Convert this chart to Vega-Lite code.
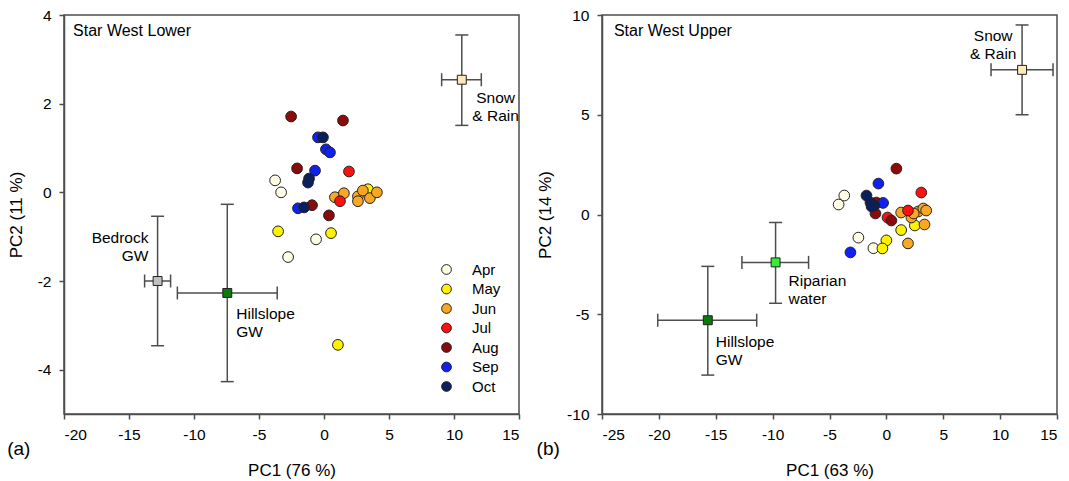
{
  "$schema": "https://vega.github.io/schema/vega-lite/v6.json",
  "padding": {"left": 6, "top": 7, "right": 8, "bottom": 0},
  "background": "white",
  "config": {
    "font": "Liberation Sans",
    "view": {"stroke": "#4d4d4d", "strokeWidth": 1.5},
    "axis": {"grid": false, "labelFont": "Liberation Sans", "labelFontSize": 15.5, "labelColor": "#000", "titleFont": "Liberation Sans", "titleFontSize": 17, "titleFontWeight": "normal", "titleColor": "#000", "tickColor": "#4d4d4d", "domainColor": "#4d4d4d", "tickSize": 5, "tickWidth": 1.5, "domainWidth": 1.5, "labelPadding": 8, "labelExpr": "'' + datum.value"},
    "axisX": {"titlePadding": 20},
    "axisY": {"titlePadding": 12},
    "title": {"font": "Liberation Sans", "fontSize": 19, "fontWeight": "normal", "color": "#000"}
  },
  "datasets": {
    "lowerPts": [
      {"month": "Apr", "pc1": -3.76, "pc2": 0.27}, {"month": "Apr", "pc1": -3.3, "pc2": 0.0}, {"month": "Apr", "pc1": -0.61, "pc2": -1.06}, {"month": "Apr", "pc1": -2.76, "pc2": -1.46},
      {"month": "May", "pc1": -3.53, "pc2": -0.88}, {"month": "May", "pc1": 0.54, "pc2": -0.92}, {"month": "May", "pc1": 1.07, "pc2": -3.44}, {"month": "May", "pc1": 3.38, "pc2": 0.07},
      {"month": "Jun", "pc1": 0.84, "pc2": -0.11}, {"month": "Jun", "pc1": 1.53, "pc2": -0.02}, {"month": "Jun", "pc1": 2.61, "pc2": -0.09}, {"month": "Jun", "pc1": 2.99, "pc2": 0.04}, {"month": "Jun", "pc1": 3.53, "pc2": -0.13}, {"month": "Jun", "pc1": 4.07, "pc2": 0.0}, {"month": "Jun", "pc1": 2.61, "pc2": -0.2},
      {"month": "Jul", "pc1": 1.92, "pc2": 0.47}, {"month": "Jul", "pc1": 1.23, "pc2": -0.2},
      {"month": "Aug", "pc1": -2.53, "pc2": 1.71}, {"month": "Aug", "pc1": 1.46, "pc2": 1.62}, {"month": "Aug", "pc1": -2.07, "pc2": 0.54}, {"month": "Aug", "pc1": -0.92, "pc2": -0.29}, {"month": "Aug", "pc1": 0.38, "pc2": -0.52},
      {"month": "Sep", "pc1": -0.46, "pc2": 1.24}, {"month": "Sep", "pc1": 0.15, "pc2": 0.97}, {"month": "Sep", "pc1": 0.46, "pc2": 0.9}, {"month": "Sep", "pc1": -0.69, "pc2": 0.49}, {"month": "Sep", "pc1": -2.0, "pc2": -0.36},
      {"month": "Oct", "pc1": -0.08, "pc2": 1.24}, {"month": "Oct", "pc1": -1.15, "pc2": 0.31}, {"month": "Oct", "pc1": -1.23, "pc2": 0.22}, {"month": "Oct", "pc1": -1.53, "pc2": -0.34}
    ],
    "upperPts": [
      {"month": "Apr", "pc1": -3.7, "pc2": 0.95}, {"month": "Apr", "pc1": -4.2, "pc2": 0.5}, {"month": "Apr", "pc1": -2.46, "pc2": -1.16}, {"month": "Apr", "pc1": -1.14, "pc2": -1.69},
      {"month": "May", "pc1": 1.3, "pc2": -0.78}, {"month": "May", "pc1": 2.5, "pc2": -0.55}, {"month": "May", "pc1": 0.0, "pc2": -1.3}, {"month": "May", "pc1": -0.35, "pc2": -1.7},
      {"month": "Jun", "pc1": 1.3, "pc2": 0.1}, {"month": "Jun", "pc1": 2.2, "pc2": -0.15}, {"month": "Jun", "pc1": 2.8, "pc2": 0.15}, {"month": "Jun", "pc1": 3.25, "pc2": 0.3}, {"month": "Jun", "pc1": 3.5, "pc2": 0.2}, {"month": "Jun", "pc1": 3.35, "pc2": -0.5}, {"month": "Jun", "pc1": 1.9, "pc2": -1.45}, {"month": "Jun", "pc1": 2.4, "pc2": 0.05},
      {"month": "Jul", "pc1": 3.07, "pc2": 1.1}, {"month": "Jul", "pc1": 1.9, "pc2": 0.2}, {"month": "Jul", "pc1": 0.1, "pc2": -0.15},
      {"month": "Aug", "pc1": 0.88, "pc2": 2.3}, {"month": "Aug", "pc1": -0.96, "pc2": 0.05}, {"month": "Aug", "pc1": 0.44, "pc2": -0.3}, {"month": "Aug", "pc1": -0.88, "pc2": 0.6},
      {"month": "Sep", "pc1": -0.7, "pc2": 1.55}, {"month": "Sep", "pc1": -0.29, "pc2": 0.58}, {"month": "Sep", "pc1": -3.16, "pc2": -1.9},
      {"month": "Oct", "pc1": -1.75, "pc2": 0.95}, {"month": "Oct", "pc1": -1.4, "pc2": 0.6}, {"month": "Oct", "pc1": -1.05, "pc2": 0.45}, {"month": "Oct", "pc1": -1.3, "pc2": 0.4}
    ],
    "lowerEm": [
      {"source": "Snow & Rain", "pc1": 10.6, "pc2": 2.54, "xlo": 9.05, "xhi": 12.1, "ylo": 1.51, "yhi": 3.55},
      {"source": "Bedrock GW", "pc1": -12.8, "pc2": -2.0, "xlo": -13.8, "xhi": -11.8, "ylo": -3.46, "yhi": -0.54},
      {"source": "Hillslope GW", "pc1": -7.44, "pc2": -2.27, "xlo": -11.28, "xhi": -3.6, "ylo": -4.27, "yhi": -0.27}
    ],
    "upperEm": [
      {"source": "Snow & Rain", "pc1": 11.93, "pc2": 7.25, "xlo": 9.2, "xhi": 14.65, "ylo": 5.0, "yhi": 9.5},
      {"source": "Riparian water", "pc1": -9.74, "pc2": -2.4, "xlo": -12.7, "xhi": -6.84, "ylo": -4.45, "yhi": -0.4},
      {"source": "Hillslope GW", "pc1": -15.7, "pc2": -5.3, "xlo": -20.1, "xhi": -11.4, "ylo": -8.05, "yhi": -2.6}
    ],
    "lowerLab": [
      {"text": "Snow\n& Rain", "lx": 13.2, "ly": 2.29},
      {"text": "Bedrock\nGW", "lx": -13.5, "ly": -0.88},
      {"text": "Hillslope\nGW", "lx": -6.75, "ly": -2.58},
      {"text": "Star West Lower", "lx": -19.3, "ly": 3.64}
    ],
    "upperLab": [
      {"text": "Snow\n& Rain", "lx": 9.39, "ly": 9.3},
      {"text": "Riparian\nwater", "lx": -8.6, "ly": -3.0},
      {"text": "Hillslope\nGW", "lx": -15.0, "ly": -6.05},
      {"text": "Star West Upper", "lx": -23.95, "ly": 9.2}
    ]
  },
  "hconcat": [
    {
      "width": 455, "height": 399,
      "title": {"text": "(a)", "orient": "bottom", "anchor": "start", "frame": "bounds", "offset": -39},
      "layer": [
        {"data": {"name": "lowerEm"}, "mark": {"type": "rule", "color": "#4d4d4d", "strokeWidth": 1.5},
         "encoding": {"x": {"field": "pc1", "type": "quantitative", "scale": {"domain": [-20, 15], "nice": false, "zero": false}, "axis": {"values": [-20, -15, -10, -5, 0, 5, 10, 15]}, "title": "PC1 (76 %)"},
                      "y": {"field": "ylo", "type": "quantitative", "scale": {"domain": [-5, 4], "nice": false, "zero": false}, "axis": {"values": [-4, -2, 0, 2, 4]}, "title": "PC2 (11 %)"},
                      "y2": {"field": "yhi"}}},
        {"data": {"name": "lowerEm"}, "mark": {"type": "rule", "color": "#4d4d4d", "strokeWidth": 1.5},
         "encoding": {"x": {"field": "xlo", "type": "quantitative", "title": "PC1 (76 %)"}, "x2": {"field": "xhi"},
                      "y": {"field": "pc2", "type": "quantitative", "title": "PC2 (11 %)"}}},
        {"data": {"name": "lowerEm"}, "mark": {"type": "tick", "orient": "horizontal", "color": "#4d4d4d", "size": 13, "thickness": 1.5, "opacity": 1},
         "encoding": {"x": {"field": "pc1", "type": "quantitative", "title": "PC1 (76 %)"}, "y": {"field": "ylo", "type": "quantitative", "title": "PC2 (11 %)"}}},
        {"data": {"name": "lowerEm"}, "mark": {"type": "tick", "orient": "horizontal", "color": "#4d4d4d", "size": 13, "thickness": 1.5, "opacity": 1},
         "encoding": {"x": {"field": "pc1", "type": "quantitative", "title": "PC1 (76 %)"}, "y": {"field": "yhi", "type": "quantitative", "title": "PC2 (11 %)"}}},
        {"data": {"name": "lowerEm"}, "mark": {"type": "tick", "orient": "vertical", "color": "#4d4d4d", "size": 13, "thickness": 1.5, "opacity": 1},
         "encoding": {"x": {"field": "xlo", "type": "quantitative", "title": "PC1 (76 %)"}, "y": {"field": "pc2", "type": "quantitative", "title": "PC2 (11 %)"}}},
        {"data": {"name": "lowerEm"}, "mark": {"type": "tick", "orient": "vertical", "color": "#4d4d4d", "size": 13, "thickness": 1.5, "opacity": 1},
         "encoding": {"x": {"field": "xhi", "type": "quantitative", "title": "PC1 (76 %)"}, "y": {"field": "pc2", "type": "quantitative", "title": "PC2 (11 %)"}}},
        {"data": {"name": "lowerPts"}, "mark": {"type": "point", "shape": "circle", "filled": true, "size": 115, "stroke": "#222", "strokeWidth": 1, "opacity": 1},
         "encoding": {"x": {"field": "pc1", "type": "quantitative", "title": "PC1 (76 %)"}, "y": {"field": "pc2", "type": "quantitative", "title": "PC2 (11 %)"},
                      "color": {"field": "month", "type": "nominal", "sort": null,
                                "scale": {"domain": ["Apr", "May", "Jun", "Jul", "Aug", "Sep", "Oct"], "range": ["#FFFDE6", "#FFF200", "#F9A825", "#FF1010", "#8B0A0A", "#1020F0", "#0B1F5E"]},
                                "legend": {"title": null, "orient": "none", "legendX": 375, "legendY": 247, "padding": 0, "symbolType": "circle", "symbolSize": 95, "symbolStrokeColor": "#222", "symbolStrokeWidth": 1, "symbolOpacity": 1, "labelFontSize": 15, "labelFont": "Liberation Sans", "labelColor": "#000", "labelOffset": 18, "rowPadding": 3.5}}}},
        {"data": {"name": "lowerEm"}, "mark": {"type": "point", "shape": "square", "filled": true, "size": 80, "stroke": "#222", "strokeWidth": 1, "opacity": 1},
         "encoding": {"x": {"field": "pc1", "type": "quantitative", "title": "PC1 (76 %)"}, "y": {"field": "pc2", "type": "quantitative", "title": "PC2 (11 %)"},
                      "fill": {"field": "source", "type": "nominal", "legend": null,
                               "scale": {"domain": ["Snow & Rain", "Bedrock GW", "Hillslope GW", "Riparian water"], "range": ["#FCE8B8", "#C0C0C0", "#0A7A0A", "#33EE33"]}}}},
        {"data": {"name": "lowerLab"}, "transform": [{"filter": {"field": "text", "oneOf": ["Hillslope\nGW"]}}],
         "mark": {"type": "text", "align": "left", "baseline": "top", "fontSize": 15.5, "lineBreak": "\n", "lineHeight": 18, "color": "#000"},
         "encoding": {"x": {"field": "lx", "type": "quantitative", "title": "PC1 (76 %)"}, "y": {"field": "ly", "type": "quantitative", "title": "PC2 (11 %)"}, "text": {"field": "text"}}},
        {"data": {"name": "lowerLab"}, "transform": [{"filter": {"field": "text", "oneOf": ["Snow\n& Rain"]}}],
         "mark": {"type": "text", "align": "center", "baseline": "top", "fontSize": 15.5, "lineBreak": "\n", "lineHeight": 18, "color": "#000"},
         "encoding": {"x": {"field": "lx", "type": "quantitative", "title": "PC1 (76 %)"}, "y": {"field": "ly", "type": "quantitative", "title": "PC2 (11 %)"}, "text": {"field": "text"}}},
        {"data": {"name": "lowerLab"}, "transform": [{"filter": {"field": "text", "oneOf": ["Bedrock\nGW"]}}],
         "mark": {"type": "text", "align": "right", "baseline": "top", "fontSize": 15.5, "lineBreak": "\n", "lineHeight": 18, "color": "#000"},
         "encoding": {"x": {"field": "lx", "type": "quantitative", "title": "PC1 (76 %)"}, "y": {"field": "ly", "type": "quantitative", "title": "PC2 (11 %)"}, "text": {"field": "text"}}},
        {"data": {"name": "lowerLab"}, "transform": [{"filter": {"field": "text", "oneOf": ["Star West Lower"]}}],
         "mark": {"type": "text", "align": "left", "baseline": "middle", "fontSize": 16, "color": "#000"},
         "encoding": {"x": {"field": "lx", "type": "quantitative", "title": "PC1 (76 %)"}, "y": {"field": "ly", "type": "quantitative", "title": "PC2 (11 %)"}, "text": {"field": "text"}}}
      ]
    },
    {
      "width": 455, "height": 399,
      "title": {"text": "(b)", "orient": "bottom", "anchor": "start", "frame": "bounds", "offset": -39},
      "layer": [
        {"data": {"name": "upperEm"}, "mark": {"type": "rule", "color": "#4d4d4d", "strokeWidth": 1.5},
         "encoding": {"x": {"field": "pc1", "type": "quantitative", "scale": {"domain": [-25, 15], "nice": false, "zero": false}, "axis": {"values": [-25, -20, -15, -10, -5, 0, 5, 10, 15]}, "title": "PC1 (63 %)"},
                      "y": {"field": "ylo", "type": "quantitative", "scale": {"domain": [-10, 10], "nice": false, "zero": false}, "axis": {"values": [-10, -5, 0, 5, 10]}, "title": "PC2 (14 %)"},
                      "y2": {"field": "yhi"}}},
        {"data": {"name": "upperEm"}, "mark": {"type": "rule", "color": "#4d4d4d", "strokeWidth": 1.5},
         "encoding": {"x": {"field": "xlo", "type": "quantitative", "title": "PC1 (63 %)"}, "x2": {"field": "xhi"},
                      "y": {"field": "pc2", "type": "quantitative", "title": "PC2 (14 %)"}}},
        {"data": {"name": "upperEm"}, "mark": {"type": "tick", "orient": "horizontal", "color": "#4d4d4d", "size": 13, "thickness": 1.5, "opacity": 1},
         "encoding": {"x": {"field": "pc1", "type": "quantitative", "title": "PC1 (63 %)"}, "y": {"field": "ylo", "type": "quantitative", "title": "PC2 (14 %)"}}},
        {"data": {"name": "upperEm"}, "mark": {"type": "tick", "orient": "horizontal", "color": "#4d4d4d", "size": 13, "thickness": 1.5, "opacity": 1},
         "encoding": {"x": {"field": "pc1", "type": "quantitative", "title": "PC1 (63 %)"}, "y": {"field": "yhi", "type": "quantitative", "title": "PC2 (14 %)"}}},
        {"data": {"name": "upperEm"}, "mark": {"type": "tick", "orient": "vertical", "color": "#4d4d4d", "size": 13, "thickness": 1.5, "opacity": 1},
         "encoding": {"x": {"field": "xlo", "type": "quantitative", "title": "PC1 (63 %)"}, "y": {"field": "pc2", "type": "quantitative", "title": "PC2 (14 %)"}}},
        {"data": {"name": "upperEm"}, "mark": {"type": "tick", "orient": "vertical", "color": "#4d4d4d", "size": 13, "thickness": 1.5, "opacity": 1},
         "encoding": {"x": {"field": "xhi", "type": "quantitative", "title": "PC1 (63 %)"}, "y": {"field": "pc2", "type": "quantitative", "title": "PC2 (14 %)"}}},
        {"data": {"name": "upperPts"}, "mark": {"type": "point", "shape": "circle", "filled": true, "size": 115, "stroke": "#222", "strokeWidth": 1, "opacity": 1},
         "encoding": {"x": {"field": "pc1", "type": "quantitative", "title": "PC1 (63 %)"}, "y": {"field": "pc2", "type": "quantitative", "title": "PC2 (14 %)"},
                      "color": {"field": "month", "type": "nominal", "sort": null, "legend": null}}},
        {"data": {"name": "upperEm"}, "mark": {"type": "point", "shape": "square", "filled": true, "size": 80, "stroke": "#222", "strokeWidth": 1, "opacity": 1},
         "encoding": {"x": {"field": "pc1", "type": "quantitative", "title": "PC1 (63 %)"}, "y": {"field": "pc2", "type": "quantitative", "title": "PC2 (14 %)"},
                      "fill": {"field": "source", "type": "nominal", "legend": null}}},
        {"data": {"name": "upperLab"}, "transform": [{"filter": {"field": "text", "oneOf": ["Hillslope\nGW", "Riparian\nwater"]}}],
         "mark": {"type": "text", "align": "left", "baseline": "top", "fontSize": 15.5, "lineBreak": "\n", "lineHeight": 18, "color": "#000"},
         "encoding": {"x": {"field": "lx", "type": "quantitative", "title": "PC1 (63 %)"}, "y": {"field": "ly", "type": "quantitative", "title": "PC2 (14 %)"}, "text": {"field": "text"}}},
        {"data": {"name": "upperLab"}, "transform": [{"filter": {"field": "text", "oneOf": ["Snow\n& Rain"]}}],
         "mark": {"type": "text", "align": "center", "baseline": "top", "fontSize": 15.5, "lineBreak": "\n", "lineHeight": 18, "color": "#000"},
         "encoding": {"x": {"field": "lx", "type": "quantitative", "title": "PC1 (63 %)"}, "y": {"field": "ly", "type": "quantitative", "title": "PC2 (14 %)"}, "text": {"field": "text"}}},
        {"data": {"name": "upperLab"}, "transform": [{"filter": {"field": "text", "oneOf": ["Star West Upper"]}}],
         "mark": {"type": "text", "align": "left", "baseline": "middle", "fontSize": 16, "color": "#000"},
         "encoding": {"x": {"field": "lx", "type": "quantitative", "title": "PC1 (63 %)"}, "y": {"field": "ly", "type": "quantitative", "title": "PC2 (14 %)"}, "text": {"field": "text"}}}
      ]
    }
  ],
  "spacing": 14,
  "resolve": {"scale": {"x": "independent", "y": "independent"}, "legend": {"color": "independent"}}
}
